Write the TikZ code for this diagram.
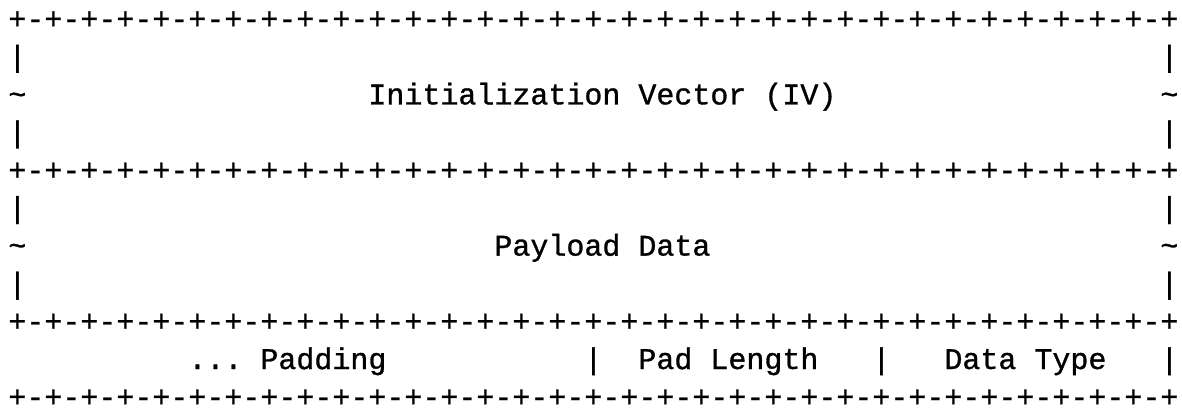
\documentclass[tikz,border=0pt]{standalone}
\usepackage{fontspec}
\setmonofont[FakeBold=1]{Liberation Mono}
\usepackage{tikz}

\tikzset{ascii/.style={font=\ttfamily\fontsize{15}{18}\selectfont,inner sep=0pt,text depth=0pt,anchor=base west}}
\newcommand{\borderrow}{+-+-+-+-+-+-+-+-+-+-+-+-+-+-+-+-+-+-+-+-+-+-+-+-+-+-+-+-+-+-+-+-+}

\begin{document}
\begin{tikzpicture}[x=9pt,y=-18.9pt]
                    \useasboundingbox (-4pt,14.4pt) rectangle (587pt,-190.1pt);
                    \foreach \r in {0,4,8,10}
                        \node[ascii] (border\r) at (0,\r) {\borderrow};
                    \foreach \r/\c in {1/|,2/\textasciitilde,3/|,5/|,6/\textasciitilde,7/|} {
                        \node[ascii] (left\r) at (0,\r) {\c};
                        \node[ascii] (right\r) at (64,\r) {\c};
                    }
                    \node[ascii] (iv) at (20,2) {Initialization Vector (IV)};
                    \node[ascii] (payload) at (27,6) {Payload Data};
                    \node[ascii] (padding) at (10,9) {... Padding};
                    \node[ascii] (bar1) at (32,9) {|};
                    \node[ascii] (padlength) at (35,9) {Pad Length};
                    \node[ascii] (bar2) at (48,9) {|};
                    \node[ascii] (datatype) at (52,9) {Data Type};
                    \node[ascii] (bar3) at (64,9) {|};
                \end{tikzpicture}
\end{document}
